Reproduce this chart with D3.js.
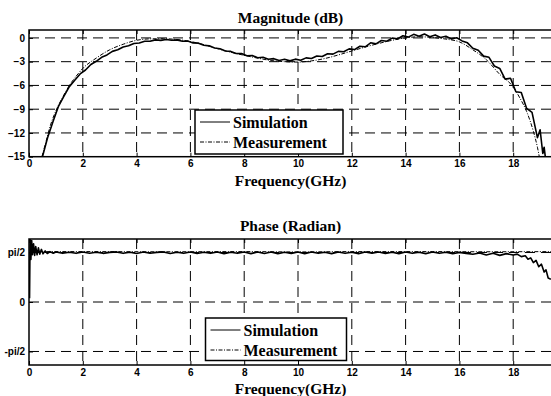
<!DOCTYPE html>
<html>
<head>
<meta charset="utf-8">
<script src="https://cdn.jsdelivr.net/npm/d3@7"></script>
<style>
  body { margin: 0; background: #fff; }
  svg { display: block; }
</style>
</head>
<body>
<div id="container"></div>
<script>
// tick values
const freqTicks = [0, 2, 4, 6, 8, 10, 12, 14, 16, 18];
const magTicks = [-15, -12, -9, -6, -3, 0];
const phaseTicks = [-Math.PI / 2, 0, Math.PI / 2];
const phaseTickLabels = ["-pi/2", "0", "pi/2"];
const seriesNames = ["Simulation", "Measurement"];

// magnitude (dB), [GHz, dB]
const magSim = [
  [0.5, -15.0], [0.7, -12.5], [0.9, -10.5], [1.1, -8.6], [1.3, -7.35], [1.5, -6.15],
  [1.7, -5.35], [1.9, -4.55], [2.1, -4.05], [2.3, -3.35], [2.5, -2.95], [2.7, -2.45],
  [2.9, -2.15], [3.1, -1.7], [3.3, -1.5], [3.5, -1.15], [3.7, -1.0], [3.9, -0.7],
  [4.1, -0.65], [4.3, -0.42], [4.5, -0.43], [4.7, -0.25], [4.9, -0.31], [5.1, -0.2],
  [5.3, -0.3], [5.5, -0.25], [5.7, -0.42], [5.9, -0.4], [6.1, -0.63], [6.3, -0.66],
  [6.5, -0.93], [6.7, -1.0], [6.9, -1.28], [7.1, -1.36], [7.3, -1.66], [7.5, -1.7],
  [7.7, -1.96], [7.9, -1.98], [8.1, -2.25], [8.3, -2.22], [8.5, -2.5], [8.7, -2.45],
  [8.9, -2.7], [9.1, -2.62], [9.3, -2.85], [9.5, -2.7], [9.7, -2.9], [9.9, -2.68],
  [10.1, -2.82], [10.3, -2.52], [10.5, -2.6], [10.7, -2.28], [10.9, -2.35], [11.1, -2.0],
  [11.3, -2.05], [11.5, -1.7], [11.7, -1.75], [11.9, -1.38], [12.1, -1.47], [12.3, -1.05],
  [12.5, -1.12], [12.7, -0.62], [12.9, -0.75], [13.1, -0.32], [13.3, -0.42], [13.5, -0.02],
  [13.7, -0.12], [13.9, 0.28], [14.1, 0.1], [14.3, 0.45], [14.5, 0.2], [14.7, 0.5],
  [14.9, 0.15], [15.1, 0.38], [15.3, 0.05], [15.5, 0.22], [15.7, -0.12], [15.9, 0.02],
  [16.1, -0.38], [16.3, -0.62], [16.5, -1.3], [16.7, -1.55], [16.9, -2.3], [17.1, -2.45],
  [17.3, -3.55], [17.5, -3.85], [17.7, -5.2], [17.9, -5.1], [18.1, -6.8], [18.3, -6.9],
  [18.5, -8.9], [18.7, -9.4], [18.9, -12.6], [19.0, -11.6], [19.1, -14.6], [19.15, -13.8],
  [19.2, -15.2]
];
const magMeas = [
  [0.48, -15.0], [0.6, -13.5], [0.8, -11.0], [1.0, -9.2], [1.25, -7.5], [1.5, -6.0],
  [1.75, -4.85], [2.0, -3.85], [2.5, -2.55], [3.0, -1.5], [3.5, -0.8], [4.0, -0.3],
  [4.5, -0.12], [5.0, -0.1], [5.5, -0.2], [6.0, -0.45], [6.5, -0.85], [7.0, -1.35],
  [7.5, -1.8], [8.0, -2.2], [8.5, -2.55], [9.0, -2.85], [9.5, -3.0], [10.0, -3.05],
  [10.5, -2.9], [11.0, -2.6], [11.5, -2.15], [12.0, -1.65], [12.5, -1.15], [13.0, -0.7],
  [13.5, -0.3], [14.0, 0.0], [14.5, 0.15], [15.0, 0.05], [15.5, -0.15], [16.0, -0.5],
  [16.5, -1.5], [17.0, -2.75], [17.5, -4.6], [18.0, -6.2], [18.25, -7.6], [18.5, -9.3],
  [18.75, -11.8], [18.9, -13.8], [18.97, -15.0]
];

// phase (rad), [GHz, rad]
const phaseSim = [
  [0.02, 0.12], [0.04, 2.0], [0.07, 1.35], [0.1, 1.95], [0.13, 1.5], [0.17, 1.85],
  [0.21, 1.48], [0.25, 1.76], [0.3, 1.5], [0.35, 1.72], [0.4, 1.52], [0.46, 1.67],
  [0.52, 1.53], [0.6, 1.62], [0.68, 1.54], [0.78, 1.6], [0.9, 1.55],
  [1.0, 1.59], [1.25, 1.545], [1.5, 1.58], [1.75, 1.545], [2.0, 1.585], [2.25, 1.55],
  [2.5, 1.58], [2.75, 1.545], [3.0, 1.575], [3.25, 1.59], [3.5, 1.545], [3.75, 1.58],
  [4.0, 1.54], [4.25, 1.585], [4.5, 1.55], [4.75, 1.575], [5.0, 1.59], [5.25, 1.54],
  [5.5, 1.58], [5.75, 1.545], [6.0, 1.585], [6.25, 1.54], [6.5, 1.58], [6.75, 1.545],
  [7.0, 1.59], [7.25, 1.535], [7.5, 1.58], [7.75, 1.545], [8.0, 1.585], [8.25, 1.535],
  [8.5, 1.59], [8.75, 1.54], [9.0, 1.585], [9.25, 1.535], [9.5, 1.58], [9.75, 1.54],
  [10.0, 1.59], [10.25, 1.535], [10.5, 1.585], [10.75, 1.545], [11.0, 1.58], [11.25, 1.535],
  [11.5, 1.59], [11.75, 1.545], [12.0, 1.58], [12.25, 1.535], [12.5, 1.585], [12.75, 1.545],
  [13.0, 1.59], [13.25, 1.54], [13.5, 1.58], [13.75, 1.535], [14.0, 1.585], [14.25, 1.545],
  [14.5, 1.58], [14.75, 1.535], [15.0, 1.585], [15.25, 1.545], [15.5, 1.58], [15.75, 1.53],
  [16.0, 1.575], [16.25, 1.545], [16.5, 1.515], [16.75, 1.555], [17.0, 1.49], [17.25, 1.545],
  [17.5, 1.48], [17.75, 1.535], [18.0, 1.49], [18.15, 1.52], [18.3, 1.44], [18.45, 1.47],
  [18.55, 1.36], [18.65, 1.4], [18.75, 1.25], [18.85, 1.32], [18.95, 1.12], [19.05, 1.2],
  [19.15, 0.95], [19.22, 1.02], [19.3, 0.76], [19.4, 0.72]
];
const phaseMeas = [
  [0.05, 1.6], [2.0, 1.6], [5.0, 1.595], [8.0, 1.6], [10.0, 1.59], [12.0, 1.6],
  [15.0, 1.6], [17.0, 1.595], [19.5, 1.6]
];

const w = 551;
const h = 396;
const left = 29;
const xMax = 19.5;
const pxPerGHz = 26.9;

const svg = d3.select('#container').append('svg')
  .attr('width', w)
  .attr('height', h)
  .style('font-family', '"Liberation Sans", Arial, sans-serif');

const x = d3.scaleLinear().domain([0, xMax]).range([left, left + xMax * pxPerGHz]);

const panels = [
  {
    id: 'mag', title: 'Magnitude (dB)', top: 30, bottom: 156.7, domain: [-15, 1],
    ticks: magTicks, fmt: d => d3.format('d')(d), sim: magSim, meas: magMeas,
    titleY: 23, labelY: 186, tickPad: 3,
    legend: { x: 195, y: 110, w: 148, h: 44 }
  },
  {
    id: 'phase', title: 'Phase (Radian)', top: 239, bottom: 365, domain: [-2, 2],
    ticks: phaseTicks, fmt: (d, i) => phaseTickLabels[i], sim: phaseSim, meas: phaseMeas,
    titleY: 231, labelY: 394, tickPad: 4,
    legend: { x: 205.5, y: 318, w: 141, h: 42.5 }
  }
];

panels.forEach(p => {
  const y = d3.scaleLinear().domain(p.domain).range([p.bottom, p.top]);
  const g = svg.append('g').attr('class', p.id);

  g.append('clipPath').attr('id', 'clip-' + p.id)
    .append('rect')
    .attr('x', x(0)).attr('y', p.top)
    .attr('width', x(xMax) - x(0)).attr('height', p.bottom - p.top);

  // dashed grid
  g.selectAll('.vgrid').data(freqTicks.slice(1)).enter().append('line')
    .attr('x1', d => x(d)).attr('x2', d => x(d))
    .attr('y1', p.top).attr('y2', p.bottom)
    .attr('stroke', '#000').attr('stroke-width', 1)
    .attr('stroke-dasharray', '10,6');
  g.selectAll('.hgrid').data(p.ticks.filter(t => y(t) < p.bottom - 1)).enter().append('line')
    .attr('x1', x(0)).attr('x2', x(xMax))
    .attr('y1', d => y(d)).attr('y2', d => y(d))
    .attr('stroke', '#000').attr('stroke-width', 1)
    .attr('stroke-dasharray', '10,6');

  // axes
  const xAxis = g.append('g')
    .attr('transform', 'translate(0,' + p.bottom + ')')
    .call(d3.axisBottom(x).tickValues(freqTicks).tickSizeInner(-4).tickSizeOuter(0).tickPadding(p.tickPad));
  g.append('g')
    .attr('transform', 'translate(0,' + p.top + ')')
    .call(d3.axisTop(x).tickValues(freqTicks).tickSizeInner(-4).tickSizeOuter(0).tickFormat(''));
  const yAxis = g.append('g')
    .attr('transform', 'translate(' + left + ',0)')
    .call(d3.axisLeft(y).tickValues(p.ticks).tickFormat(p.fmt).tickSizeInner(-4).tickSizeOuter(0).tickPadding(4));
  [xAxis, yAxis].forEach(a => {
    a.selectAll('text').attr('font-size', 10).attr('font-weight', 'bold').attr('fill', '#000')
      .style('font-family', '"Liberation Sans", Arial, sans-serif');
  });
  g.selectAll('.domain').remove();
  g.selectAll('.tick line').attr('stroke', '#000').attr('stroke-width', 1);

  // data
  const line = d3.line().x(d => x(d[0])).y(d => y(d[1]));
  g.append('path').datum(p.meas)
    .attr('clip-path', 'url(#clip-' + p.id + ')')
    .attr('d', line.curve(d3.curveMonotoneX))
    .attr('fill', 'none').attr('stroke', '#000').attr('stroke-width', 1)
    .attr('stroke-dasharray', '4,1.5,1,1.5');
  g.append('path').datum(p.sim)
    .attr('clip-path', 'url(#clip-' + p.id + ')')
    .attr('d', d3.line().x(d => x(d[0])).y(d => y(d[1])))
    .attr('fill', 'none').attr('stroke', '#000').attr('stroke-width', 1.6)
    .attr('stroke-linejoin', 'round');

  // frame (right edge falls off the page)
  g.append('rect')
    .attr('x', x(0)).attr('y', p.top)
    .attr('width', x(xMax) - x(0)).attr('height', p.bottom - p.top)
    .attr('fill', 'none').attr('stroke', '#000').attr('stroke-width', 1.5);

  // titles
  g.append('text').attr('x', 290.5).attr('y', p.titleY)
    .attr('text-anchor', 'middle').attr('font-family', '"Liberation Serif", "Times New Roman", serif')
    .attr('font-weight', 'bold').attr('font-size', 15.5).text(p.title);
  g.append('text').attr('x', 290.5).attr('y', p.labelY)
    .attr('text-anchor', 'middle').attr('font-family', '"Liberation Serif", "Times New Roman", serif')
    .attr('font-weight', 'bold').attr('font-size', 15.5).text('Frequency(GHz)');

  // legend
  const L = p.legend;
  const lg = g.append('g').attr('transform', 'translate(' + L.x + ',' + L.y + ')');
  lg.append('rect').attr('width', L.w).attr('height', L.h)
    .attr('fill', '#fff').attr('stroke', '#000').attr('stroke-width', 1.5);
  seriesNames.forEach((name, i) => {
    const ly = 12 + i * 20;
    lg.append('line').attr('x1', 5).attr('x2', 35).attr('y1', ly).attr('y2', ly)
      .attr('stroke', '#000').attr('stroke-width', 1)
      .attr('stroke-dasharray', i === 1 ? '4,1.5,1,1.5' : null);
    lg.append('text').attr('x', 38).attr('y', ly + 5.5)
      .attr('font-family', '"Liberation Serif", "Times New Roman", serif')
      .attr('font-weight', 'bold').attr('font-size', 16).text(name);
  });
});
</script>
</body>
</html>
